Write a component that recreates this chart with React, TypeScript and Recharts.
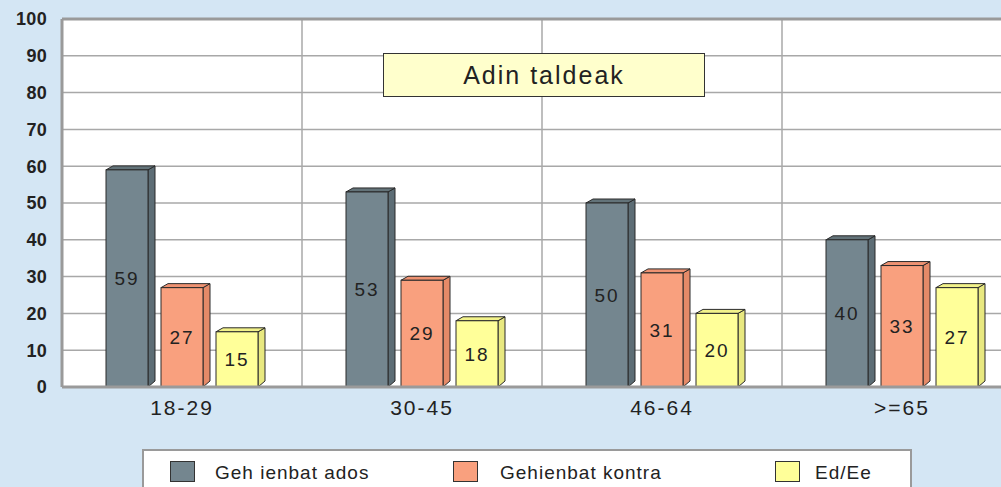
import React from "react";
import { BarChart, Bar, XAxis, YAxis, CartesianGrid, LabelList, ReferenceLine } from "recharts";

const categories = ["18-29", "30-45", "46-64", ">=65"];
const ados = [59, 53, 50, 40];
const kontra = [27, 29, 31, 33];
const edee = [15, 18, 20, 27];
const yTicks = [0, 10, 20, 30, 40, 50, 60, 70, 80, 90, 100];

const SERIES = [
  { key: "ados", name: "Geh ienbat ados", fill: "#74868f", side: "#5d6d75", top: "#637379" },
  { key: "kontra", name: "Gehienbat kontra", fill: "#f9a07e", side: "#e58a68", top: "#ee9272" },
  { key: "edee", name: "Ed/Ee", fill: "#ffff99", side: "#e8e880", top: "#f2f28a" },
];

const data = categories.map((c, i) => ({ cat: c, ados: ados[i], kontra: kontra[i], edee: edee[i] }));

const FONT = '"Liberation Sans", Arial, sans-serif';
const DX = 7;
const DY = 4;

function Box3D(props: any) {
  const { x, y, width, height, fill, side, top } = props;
  if (!height || height <= 0) return null;
  const stroke = "#2a2a2a";
  return (
    <g>
      <polygon
        points={`${x + width},${y} ${x + width + DX},${y - DY} ${x + width + DX},${y + height - DY - 2} ${x + width},${y + height}`}
        fill={side}
        stroke={stroke}
        strokeWidth={1}
      />
      <polygon
        points={`${x},${y} ${x + DX},${y - DY} ${x + width + DX},${y - DY} ${x + width},${y}`}
        fill={top}
        stroke={stroke}
        strokeWidth={1}
      />
      <rect x={x} y={y} width={width} height={height} fill={fill} stroke={stroke} strokeWidth={1} />
    </g>
  );
}

function LegendBox() {
  const pos = [
    { sw: 26, tx: 71 },
    { sw: 309, tx: 356 },
    { sw: 631, tx: 671 },
  ];
  return (
    <div
      style={{
        position: "absolute",
        left: 142,
        top: 449,
        width: 766,
        height: 60,
        background: "#fff",
        border: "2px solid #9a9a9a",
        fontFamily: FONT,
        fontSize: 19,
        letterSpacing: 1,
        color: "#222",
      }}
    >
      {SERIES.map((s, i) => (
        <React.Fragment key={s.key}>
          <div
            style={{
              position: "absolute",
              left: pos[i].sw,
              top: 10,
              width: 23,
              height: 19,
              background: s.fill,
              border: "1px solid #333",
            }}
          />
          <div style={{ position: "absolute", left: pos[i].tx, top: 11, whiteSpace: "nowrap" }}>{s.name}</div>
        </React.Fragment>
      ))}
    </div>
  );
}

export default function App() {
  return (
    <div
      style={{
        position: "absolute",
        left: 0,
        top: 0,
        width: 1001,
        height: 487,
        overflow: "hidden",
        background: "#d4e6f4",
        fontFamily: FONT,
      }}
    >
      <BarChart
        width={1040}
        height={487}
        data={data}
        margin={{ top: 19, right: 18, bottom: 70, left: 0 }}
        barSize={42}
        barGap={13}
      >
        <CartesianGrid
          stroke="#a8a8a8"
          strokeWidth={1.5}
          fill="#ffffff"
          verticalCoordinatesGenerator={({ offset }: any) =>
            categories.map((_, i) => offset.left + (offset.width / categories.length) * i)
          }
        />
        <XAxis
          dataKey="cat"
          height={30}
          tickLine={false}
          tickSize={0}
          tickMargin={13}
          axisLine={{ stroke: "#9a9a9a", strokeWidth: 3 }}
          tick={{ fontSize: 21, fill: "#222", fontFamily: FONT, letterSpacing: 2 }}
        />
        <YAxis
          width={62}
          domain={[0, 100]}
          ticks={yTicks}
          interval={0}
          tickLine={false}
          tickSize={0}
          tickMargin={15}
          axisLine={{ stroke: "#9a9a9a", strokeWidth: 3 }}
          tick={{ fontSize: 18, fill: "#222", fontWeight: "bold", fontFamily: FONT, letterSpacing: 0.3 }}
        />
        <ReferenceLine y={100} stroke="#9a9a9a" strokeWidth={3} />
        {SERIES.map((s) => (
          <Bar
            key={s.key}
            dataKey={s.key}
            name={s.name}
            fill={s.fill}
            isAnimationActive={false}
            shape={(p: any) => <Box3D {...p} fill={s.fill} side={s.side} top={s.top} />}
          >
            <LabelList
              dataKey={s.key}
              position="center"
              fill="#222"
              fontSize={19}
              fontFamily={FONT}
              letterSpacing={2}
            />
          </Bar>
        ))}
      </BarChart>
      <div
        style={{
          position: "absolute",
          left: 383,
          top: 53,
          width: 320,
          height: 42,
          background: "#ffffcc",
          border: "1px solid #333",
          fontSize: 25,
          letterSpacing: 2,
          color: "#222",
          display: "flex",
          alignItems: "center",
          justifyContent: "center",
        }}
      >
        Adin taldeak
      </div>
      <LegendBox />
    </div>
  );
}
